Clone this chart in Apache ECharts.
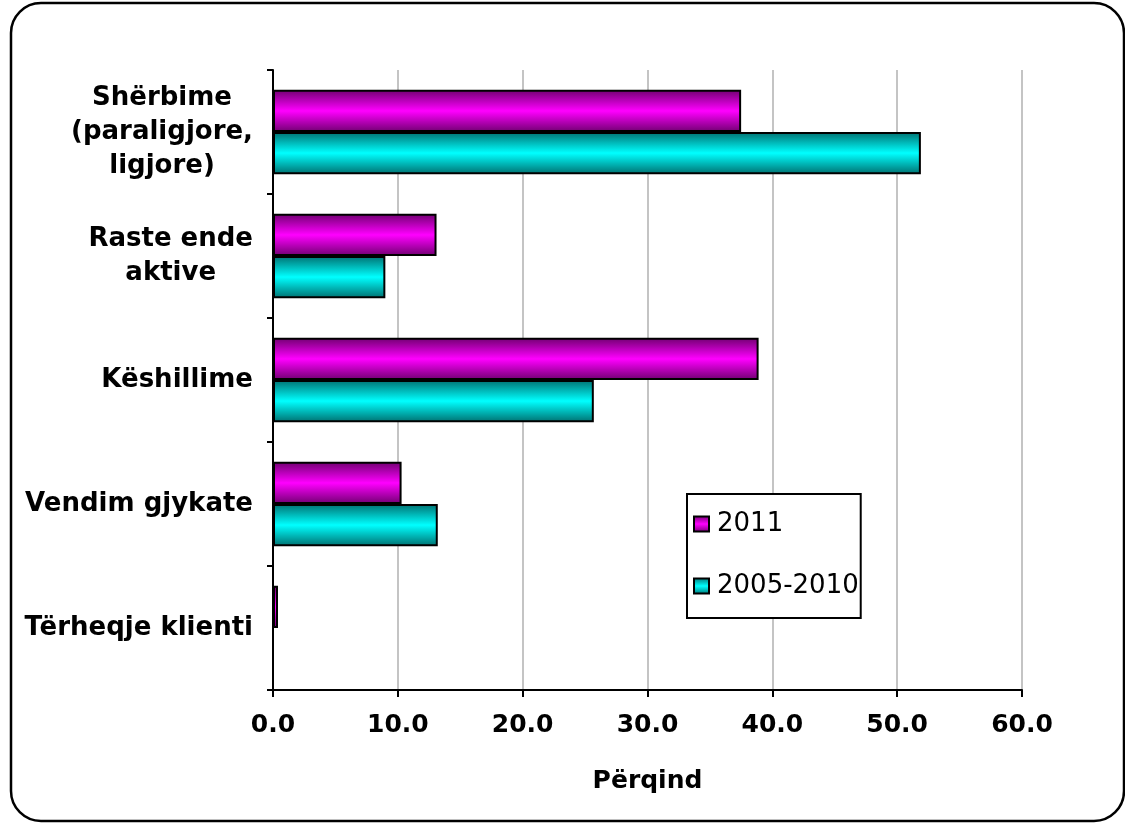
<!DOCTYPE html>
<html>
<head>
<meta charset="utf-8">
<script src="https://cdn.jsdelivr.net/npm/echarts@6/dist/echarts.min.js"></script>
<style>
html,body{margin:0;padding:0;background:#fff;}
#chart{width:1125px;height:824px;}
</style>
</head>
<body>
<div id="chart"></div>
<script>
var categories = ['Shërbime\n(paraligjore,\nligjore)', 'Raste ende\naktive', 'Këshillime', 'Vendim gjykate', 'Tërheqje klienti'];
var seriesNames = ['2011', '2005-2010'];
var values2011 = [37.5, 13.1, 38.9, 10.3, 0.4];
var values2005_2010 = [51.9, 9.0, 25.7, 13.2, 0];
var xTicks = { min: 0, max: 60, interval: 10 };
var xAxisName = 'Përqind';

var FONT = 'DejaVu Sans';
function grad(dark, bright) {
  return new echarts.graphic.LinearGradient(0, 0, 0, 1, [
    { offset: 0, color: dark },
    { offset: 0.5, color: bright },
    { offset: 1, color: dark }
  ]);
}
var chart = echarts.init(document.getElementById('chart'), null, { renderer: 'canvas' });
chart.setOption({
  backgroundColor: '#ffffff',
  animation: false,
  graphic: [{
    type: 'rect',
    shape: { x: 11, y: 3, width: 1113, height: 818, r: 30 },
    style: { fill: 'none', stroke: '#000', lineWidth: 2.5 },
    z: 100
  }],
  grid: { left: 273, right: 103, top: 70, bottom: 134, containLabel: false },
  legend: {
    orient: 'vertical',
    left: 687, top: 494,
    backgroundColor: '#fff',
    borderColor: '#000', borderWidth: 2, borderRadius: 0,
    padding: [17, 2, 19, 6],
    itemWidth: 15, itemHeight: 15, itemGap: 36,
    icon: 'rect',
    textStyle: { fontFamily: FONT, fontSize: 26, color: '#000', padding: [0, 0, 0, 3] },
    data: seriesNames
  },
  xAxis: {
    type: 'value',
    min: xTicks.min, max: xTicks.max, interval: xTicks.interval,
    name: xAxisName, nameLocation: 'middle', nameGap: 79,
    nameTextStyle: { fontFamily: FONT, fontSize: 25, fontWeight: 'bold', color: '#000' },
    axisLine: { show: true, lineStyle: { color: '#000', width: 2 } },
    axisTick: { show: true, length: 7, lineStyle: { color: '#000', width: 2 } },
    axisLabel: { margin: 23, fontFamily: FONT, fontSize: 25, fontWeight: 'bold', color: '#000',
      formatter: function (v) { return v.toFixed(1); } },
    splitLine: { show: true, lineStyle: { color: '#c4c4c4', width: 2 } }
  },
  yAxis: {
    type: 'category',
    inverse: true,
    data: categories,
    axisLine: { show: true, lineStyle: { color: '#000', width: 2 } },
    axisTick: { show: true, length: 6, inside: false, lineStyle: { color: '#000', width: 2 } },
    axisLabel: {
      margin: 20, align: 'right', fontFamily: FONT, fontSize: 26, fontWeight: 'bold', color: '#000',
      lineHeight: 34,
      formatter: function (v) {
        return v.split('\n').map(function (l) { return '{c|' + l + '}'; }).join('\n');
      },
      rich: { c: { align: 'center', fontFamily: FONT, fontSize: 26, fontWeight: 'bold', color: '#000', lineHeight: 34 } }
    },
    splitLine: { show: false }
  },
  series: [{
    name: seriesNames[0], type: 'bar', data: values2011,
    barGap: '0%', barCategoryGap: '32%',
    itemStyle: { color: grad('#700070', '#ff00ff'), borderColor: '#000', borderWidth: 2 }
  }, {
    name: seriesNames[1], type: 'bar', data: values2005_2010,
    barGap: '0%', barCategoryGap: '32%',
    itemStyle: { color: grad('#007070', '#00ffff'), borderColor: '#000', borderWidth: 2 }
  }]
});
</script>
</body>
</html>
